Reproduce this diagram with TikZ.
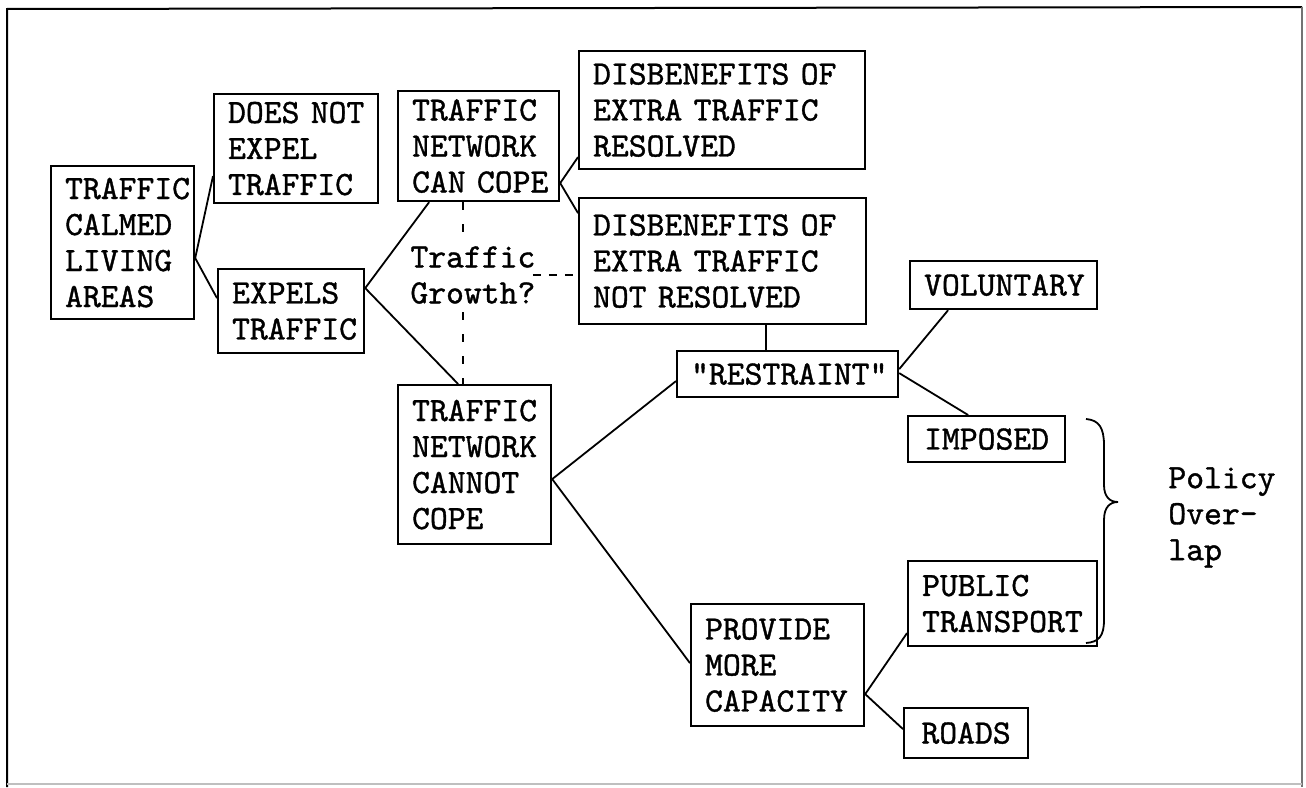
\documentclass[tikz,border=0pt]{standalone}
\usepackage{fontspec}
\newfontfamily\tw[FakeBold=1.1]{lmmono10-regular.otf}
\begin{document}
\begin{tikzpicture}[x=0.5pt, y=-0.5pt,
  txt/.style={font=\tw\fontsize{17pt}{18pt}\selectfont},
  box/.style={txt, draw, line width=1.1pt, anchor=north west,
              inner xsep=7pt, inner ysep=0pt, align=left},
  cbox/.style={box, align=center},
  link/.style={line width=0.9pt},
  vdash/.style={line width=0.9pt, dash pattern=on 4pt off 7pt},
  hdash/.style={line width=0.9pt, dash pattern=on 4pt off 4pt},
  note/.style={txt, anchor=north west, inner xsep=0pt, inner ysep=4pt, align=left},
  frame/.style={line width=1pt}]
\useasboundingbox (0,0) rectangle (1306,787);

% page frame
\draw[frame] (7,787) -- (7,9) -- (1302,7);
\draw[frame, black!55, line width=0.7pt] (1302,7) -- (1302,787);
\draw[black!25, line width=0.6pt] (7,784) -- (1302,784);

% boxes
\node[box, text width=57.5pt, minimum height=76.5pt] (A) at (50,165) {TRAFFIC\\CALMED\\LIVING\\AREAS};
\node[box, text width=68pt,   minimum height=54.5pt] (B) at (213,93) {DOES~NOT\\EXPEL\\TRAFFIC};
\node[box, text width=59pt,   minimum height=42pt]   (C) at (217,268) {EXPELS\\TRAFFIC};
\node[box, text width=66.5pt, minimum height=55pt]   (D) at (397,90) {TRAFFIC\\NETWORK\\CAN~COPE};
\node[box, text width=129pt,  minimum height=59pt]   (E) at (578,50) {DISBENEFITS OF\\EXTRA TRAFFIC\\RESOLVED};
\node[box, text width=129.5pt,minimum height=63pt]   (F) at (578,197) {DISBENEFITS OF\\EXTRA TRAFFIC\\NOT RESOLVED};
\node[cbox, text width=96.5pt, minimum height=23pt]  (G) at (676,350) {"RESTRAINT"};
\node[cbox, text width=79.5pt, minimum height=24pt]  (H) at (909,260) {VOLUNTARY};
\node[cbox, text width=64.5pt, minimum height=23pt]  (I) at (907,415) {IMPOSED};
\node[box, text width=62.5pt, minimum height=79.5pt] (J) at (397,384) {TRAFFIC\\NETWORK\\CANNOT\\COPE};
\node[box, text width=72.5pt, minimum height=61pt]   (K) at (690,603) {PROVIDE\\MORE\\CAPACITY};
\node[box, text width=80.5pt, minimum height=42.5pt] (L) at (907,560) {PUBLIC\\TRANSPORT};
\node[cbox, text width=48pt,  minimum height=25pt]   (M) at (903,707) {ROADS};

% free text
\node[note] (growth) at (410,238) {Traffic\\Growth?};
\node[note, inner ysep=0pt] (policy) at (1168,467) {Policy\\Over-\\lap};
\coordinate (vx) at (463,0);

% tree connectors
\draw[link] ([yshift=-7.75pt]A.east) -- ([yshift=-13.75pt]B.west);
\draw[link] ([yshift=-7.75pt]A.east) -- ([yshift=6.5pt]C.west);
\draw[link] ([yshift=11.5pt]C.east) -- ([xshift=-24.75pt]D.south);
\draw[link] ([yshift=11.5pt]C.east) -- ([xshift=-8.25pt]J.north);
\draw[link] ([yshift=-18.5pt]D.east) -- ([yshift=-23.5pt]E.west);
\draw[link] ([yshift=-18.5pt]D.east) -- ([yshift=24pt]F.west);
\draw[link] ([xshift=21.75pt]F.south) -- ([xshift=21.75pt]F.south |- G.north);
\draw[link] ([yshift=-7.25pt]J.east) -- ([yshift=-3.5pt]G.west);
\draw[link] ([yshift=-7.25pt]J.east) -- ([yshift=1pt]K.west);
\draw[link] ([yshift=2.5pt]G.east) -- ([xshift=-27.75pt]H.south);
\draw[link] ([yshift=0.5pt]G.east) -- ([xshift=-9.25pt]I.north);
\draw[link] ([yshift=-14.5pt]K.east) -- ([yshift=-14.75pt]L.west);
\draw[link] ([yshift=-14.5pt]K.east) -- ([yshift=2pt]M.west);

% traffic growth question
\draw[vdash] (D.south -| vx) -- (growth.north -| vx);
\draw[vdash] (growth.south -| vx) -- (J.north -| vx);
\draw[hdash] ([xshift=-1.5pt]growth.east) -- (growth.east -| F.west);

% brace grouping the overlapping policies
\draw[link] (1086,419) .. controls (1099,420) and (1104,428) .. (1104,445)
  -- (1104,485) .. controls (1104,497) and (1110,502) .. (1118,502)
  .. controls (1110,502) and (1104,507) .. (1104,520)
  -- (1104,620) .. controls (1104,636) and (1099,642) .. (1086,643);
\end{tikzpicture}
\end{document}
